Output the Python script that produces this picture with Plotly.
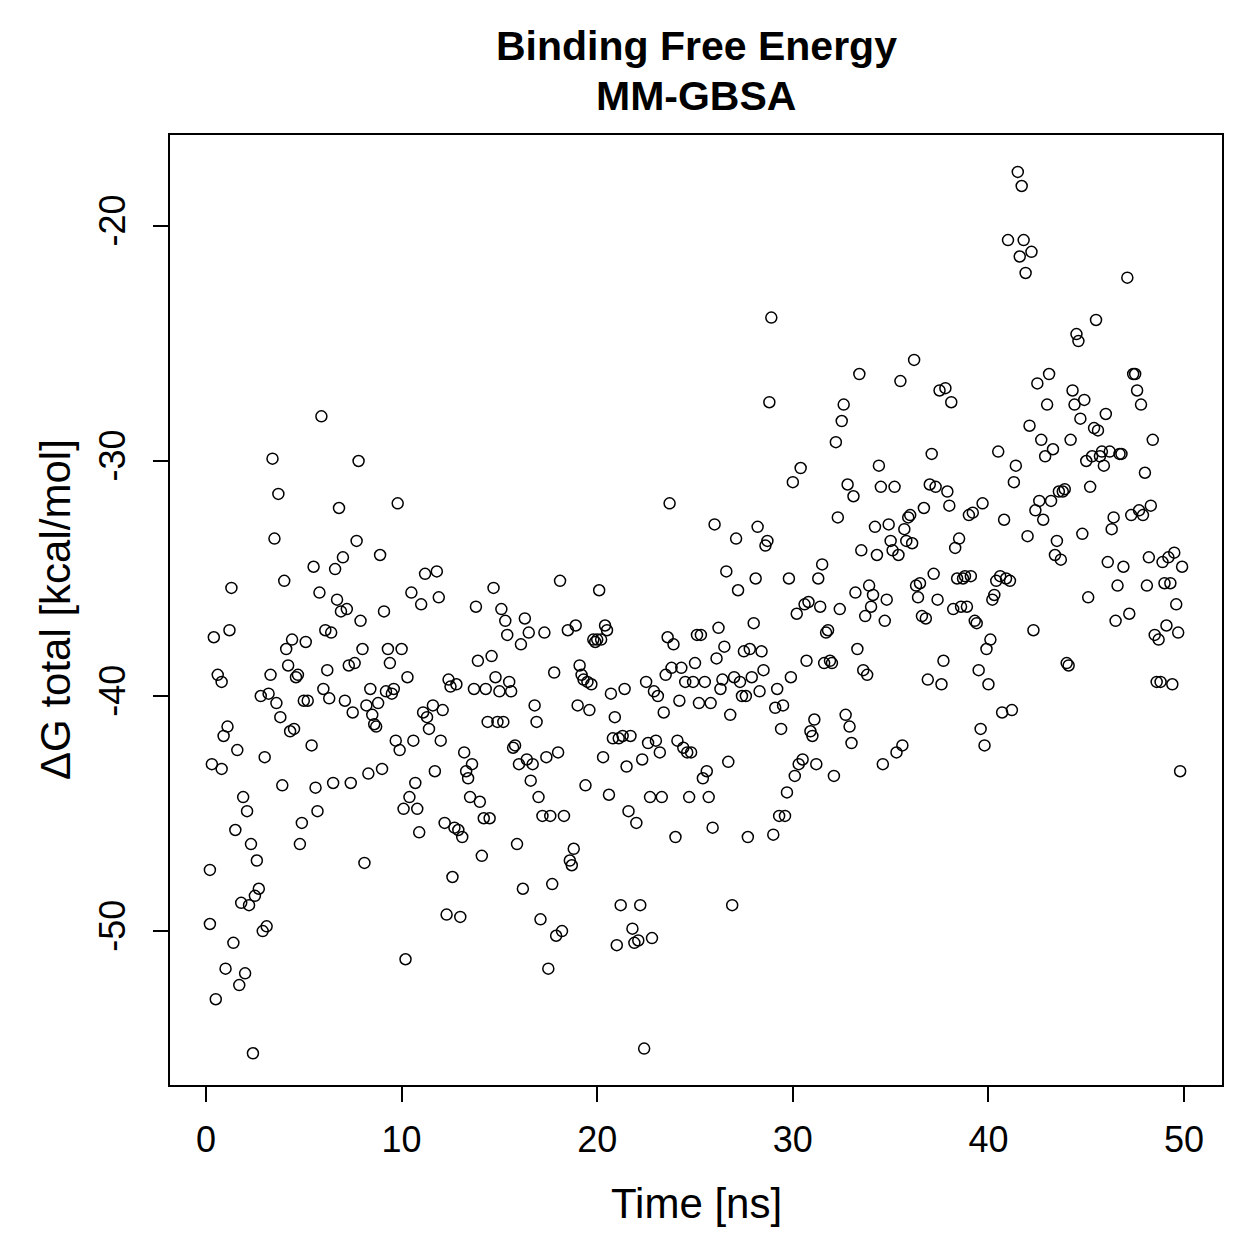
import plotly.graph_objects as go

title_lines = ["Binding Free Energy", "MM-GBSA"]
x_label = "Time [ns]"
y_label = "ΔG total [kcal/mol]"
x_ticks = [0, 10, 20, 30, 40, 50]
x_tick_text = ["0", "10", "20", "30", "40", "50"]
y_ticks = [-50, -40, -30, -20]
y_tick_text = ["-50", "-40", "-30", "-20"]

time_ns = [
    0.2, 0.2, 0.3, 0.4, 0.5, 0.6, 0.8, 0.8, 0.9, 1.0,
    1.1, 1.2, 1.3, 1.4, 1.5, 1.6, 1.7, 1.8, 1.9, 2.0,
    2.1, 2.2, 2.3, 2.4, 2.5, 2.6, 2.7, 2.8, 2.9, 3.0,
    3.1, 3.2, 3.3, 3.4, 3.5, 3.6, 3.7, 3.8, 3.9, 4.0,
    4.1, 4.2, 4.3, 4.4, 4.5, 4.6, 4.7, 4.8, 4.9, 5.0,
    5.1, 5.2, 5.4, 5.5, 5.6, 5.7, 5.8, 5.9, 6.0, 6.1,
    6.2, 6.3, 6.4, 6.5, 6.6, 6.7, 6.8, 6.9, 7.0, 7.1,
    7.2, 7.3, 7.4, 7.5, 7.6, 7.7, 7.8, 7.9, 8.0, 8.1,
    8.2, 8.3, 8.4, 8.5, 8.6, 8.7, 8.8, 8.9, 9.0, 9.1,
    9.2, 9.3, 9.4, 9.5, 9.6, 9.7, 9.8, 9.9, 10.0, 10.1,
    10.2, 10.3, 10.4, 10.5, 10.6, 10.7, 10.8, 10.9, 11.0, 11.1,
    11.2, 11.3, 11.4, 11.6, 11.7, 11.8, 11.9, 12.0, 12.1, 12.2,
    12.3, 12.4, 12.5, 12.6, 12.7, 12.8, 12.9, 13.0, 13.1, 13.2,
    13.3, 13.4, 13.5, 13.6, 13.7, 13.8, 13.9, 14.0, 14.1, 14.2,
    14.3, 14.4, 14.5, 14.6, 14.7, 14.8, 14.9, 15.0, 15.1, 15.2,
    15.3, 15.4, 15.5, 15.6, 15.7, 15.8, 15.9, 16.0, 16.1, 16.2,
    16.3, 16.4, 16.5, 16.6, 16.7, 16.8, 16.9, 17.0, 17.1, 17.2,
    17.3, 17.4, 17.5, 17.6, 17.7, 17.8, 17.9, 18.0, 18.1, 18.2,
    18.3, 18.5, 18.6, 18.7, 18.8, 18.9, 19.0, 19.1, 19.2, 19.3,
    19.4, 19.5, 19.6, 19.7, 19.8, 19.9, 20.0, 20.1, 20.2, 20.3,
    20.4, 20.5, 20.6, 20.7, 20.8, 20.9, 21.0, 21.1, 21.2, 21.3,
    21.4, 21.5, 21.6, 21.7, 21.8, 21.9, 22.0, 22.1, 22.2, 22.3,
    22.4, 22.5, 22.6, 22.7, 22.8, 22.9, 23.0, 23.1, 23.2, 23.3,
    23.4, 23.5, 23.6, 23.7, 23.8, 23.9, 24.0, 24.1, 24.2, 24.3,
    24.4, 24.5, 24.6, 24.7, 24.8, 24.9, 25.0, 25.1, 25.2, 25.3,
    25.4, 25.5, 25.6, 25.7, 25.8, 25.9, 26.0, 26.1, 26.2, 26.3,
    26.4, 26.5, 26.6, 26.7, 26.8, 26.9, 27.0, 27.1, 27.2, 27.3,
    27.4, 27.5, 27.6, 27.7, 27.8, 27.9, 28.0, 28.1, 28.2, 28.3,
    28.4, 28.5, 28.6, 28.7, 28.8, 28.9, 29.0, 29.1, 29.2, 29.3,
    29.4, 29.5, 29.6, 29.7, 29.8, 29.9, 30.0, 30.1, 30.2, 30.3,
    30.4, 30.5, 30.6, 30.7, 30.8, 30.9, 31.0, 31.1, 31.2, 31.3,
    31.4, 31.5, 31.6, 31.7, 31.8, 31.9, 32.0, 32.1, 32.2, 32.3,
    32.4, 32.5, 32.6, 32.7, 32.8, 32.9, 33.0, 33.1, 33.2, 33.3,
    33.4, 33.5, 33.6, 33.7, 33.8, 33.9, 34.0, 34.1, 34.2, 34.3,
    34.4, 34.5, 34.6, 34.7, 34.8, 34.9, 35.0, 35.1, 35.2, 35.3,
    35.4, 35.5, 35.6, 35.7, 35.8, 35.9, 36.0, 36.1, 36.2, 36.3,
    36.4, 36.5, 36.6, 36.7, 36.8, 36.9, 37.0, 37.1, 37.2, 37.3,
    37.4, 37.5, 37.6, 37.7, 37.8, 37.9, 38.0, 38.1, 38.2, 38.3,
    38.4, 38.5, 38.6, 38.7, 38.8, 38.9, 39.0, 39.1, 39.2, 39.3,
    39.4, 39.5, 39.6, 39.7, 39.8, 39.9, 40.0, 40.1, 40.2, 40.3,
    40.4, 40.5, 40.6, 40.7, 40.8, 40.9, 41.0, 41.1, 41.2, 41.3,
    41.4, 41.5, 41.6, 41.7, 41.8, 41.9, 42.0, 42.1, 42.2, 42.3,
    42.4, 42.5, 42.6, 42.7, 42.8, 42.9, 43.0, 43.1, 43.2, 43.3,
    43.4, 43.5, 43.6, 43.7, 43.8, 43.9, 44.0, 44.1, 44.2, 44.3,
    44.4, 44.5, 44.6, 44.7, 44.8, 44.9, 45.0, 45.1, 45.2, 45.3,
    45.4, 45.5, 45.6, 45.7, 45.8, 45.9, 46.0, 46.1, 46.2, 46.3,
    46.4, 46.5, 46.6, 46.7, 46.8, 46.9, 47.1, 47.2, 47.3, 47.4,
    47.5, 47.6, 47.7, 47.8, 47.9, 48.0, 48.1, 48.2, 48.3, 48.4,
    48.5, 48.6, 48.7, 48.8, 48.9, 49.0, 49.1, 49.2, 49.3, 49.4,
    49.5, 49.6, 49.7, 49.8, 49.9,
]

dg_total = [
    -49.7, -47.4, -42.9, -37.5, -52.9, -39.1, -43.1, -39.4, -41.7, -51.6,
    -41.3, -37.2, -35.4, -50.5, -45.7, -42.3, -52.3, -48.8, -44.3, -51.8,
    -44.9, -48.9, -46.3, -55.2, -48.5, -47.0, -48.2, -40.0, -50.0, -42.6,
    -49.8, -39.9, -39.1, -29.9, -33.3, -40.3, -31.4, -40.9, -43.8, -35.1,
    -38.0, -38.7, -41.5, -37.6, -41.4, -39.2, -39.1, -46.3, -45.4, -40.2,
    -37.7, -40.2, -42.1, -34.5, -43.9, -44.9, -35.6, -28.1, -39.7, -37.2,
    -38.9, -40.1, -37.3, -43.7, -34.6, -35.9, -32.0, -36.4, -34.1, -40.2,
    -36.3, -38.7, -43.7, -40.7, -38.6, -33.4, -30.0, -36.8, -38.0, -47.1,
    -40.4, -43.3, -39.7, -40.8, -41.2, -41.3, -40.3, -34.0, -43.1, -36.4,
    -39.8, -38.0, -38.6, -39.9, -39.7, -41.9, -31.8, -42.3, -38.0, -44.8,
    -51.2, -39.2, -44.3, -35.6, -41.9, -43.7, -44.8, -45.8, -36.1, -40.7,
    -34.8, -40.9, -41.4, -40.4, -43.2, -34.7, -35.8, -41.9, -40.6, -45.4,
    -49.3, -39.3, -39.6, -47.7, -45.6, -39.5, -45.7, -49.4, -46.0, -42.4,
    -43.2, -43.5, -44.3, -42.9, -39.7, -36.2, -38.5, -44.5, -46.8, -45.2,
    -39.7, -41.1, -45.2, -38.3, -35.4, -39.2, -41.1, -39.8, -36.3, -41.1,
    -36.8, -37.4, -39.4, -39.8, -42.2, -42.1, -46.3, -42.9, -37.8, -48.2,
    -36.7, -42.7, -37.3, -43.6, -42.9, -40.4, -41.1, -44.3, -49.5, -45.1,
    -37.3, -42.6, -51.6, -45.1, -48.0, -39.0, -50.2, -42.4, -35.1, -50.0,
    -45.1, -37.2, -47.0, -47.2, -46.5, -37.0, -40.4, -38.7, -39.1, -39.3,
    -43.8, -39.4, -40.6, -39.5, -37.6, -37.7, -37.6, -35.5, -37.6, -42.6,
    -37.0, -37.2, -44.2, -39.9, -41.8, -40.9, -50.6, -41.8, -48.9, -41.7,
    -39.7, -43.0, -44.9, -41.7, -49.9, -50.5, -45.4, -50.4, -48.9, -42.7,
    -55.0, -39.4, -42.0, -44.3, -50.3, -39.8, -41.9, -40.0, -42.4, -44.3,
    -40.7, -39.1, -37.5, -31.8, -38.8, -37.8, -46.0, -41.9, -40.2, -38.8,
    -42.2, -39.4, -42.4, -44.3, -42.4, -39.4, -38.6, -37.4, -40.3, -37.4,
    -43.5, -39.4, -43.2, -44.3, -40.3, -45.6, -32.7, -38.4, -37.1, -39.7,
    -39.3, -37.9, -34.7, -42.8, -40.8, -48.9, -39.2, -33.3, -35.5, -39.4,
    -40.0, -38.1, -40.0, -46.0, -38.0, -39.2, -36.9, -35.0, -32.8, -39.8,
    -38.1, -38.9, -33.6, -33.4, -27.5, -23.9, -45.9, -40.5, -39.7, -45.1,
    -41.4, -40.4, -45.1, -44.1, -35.0, -39.2, -30.9, -43.4, -36.5, -42.9,
    -30.3, -42.7, -36.1, -38.5, -36.0, -41.5, -41.7, -41.0, -42.9, -35.0,
    -36.2, -34.4, -38.6, -37.3, -37.2, -38.5, -38.6, -43.4, -29.2, -32.4,
    -36.3, -28.3, -27.6, -40.8, -31.0, -41.3, -42.0, -31.5, -35.6, -38.0,
    -26.3, -33.8, -38.9, -36.6, -39.1, -35.3, -36.2, -35.7, -32.8, -34.0,
    -30.2, -31.1, -42.9, -36.8, -35.9, -32.7, -33.4, -33.8, -31.1, -42.4,
    -34.0, -26.6, -42.1, -32.9, -33.4, -32.4, -32.3, -33.5, -25.7, -35.3,
    -35.8, -35.2, -36.6, -32.0, -36.7, -39.3, -31.0, -29.7, -34.8, -31.1,
    -35.9, -27.0, -39.5, -38.5, -26.9, -31.3, -31.9, -27.5, -36.3, -33.7,
    -35.0, -33.3, -36.2, -35.0, -34.9, -36.2, -32.3, -34.9, -32.2, -36.8,
    -36.9, -38.9, -41.4, -31.8, -42.1, -38.0, -39.5, -37.6, -35.9, -35.7,
    -35.1, -29.6, -34.9, -40.7, -32.5, -35.0, -20.6, -35.1, -40.6, -30.9,
    -30.2, -17.7, -21.3, -18.3, -20.6, -22.0, -33.2, -28.5, -21.1, -37.2,
    -32.1, -26.7, -31.7, -29.1, -32.5, -29.8, -27.6, -26.3, -31.7, -29.5,
    -34.0, -33.4, -31.3, -34.2, -31.3, -31.2, -38.6, -38.7, -29.1, -27.0,
    -27.6, -24.6, -24.9, -28.2, -33.1, -27.4, -30.0, -35.8, -31.1, -29.8,
    -28.6, -24.0, -28.7, -29.8, -29.6, -30.2, -28.0, -34.3, -29.6, -32.9,
    -32.4, -36.8, -35.3, -29.7, -29.7, -34.5, -22.2, -36.5, -32.3, -26.3,
    -26.3, -27.0, -32.1, -27.6, -32.3, -30.5, -35.3, -34.1, -31.9, -29.1,
    -37.4, -39.4, -37.6, -39.4, -34.3, -35.2, -37.0, -34.1, -35.2, -39.5,
    -33.9, -36.1, -37.3, -43.2, -34.5,
]

FONT = "Liberation Sans, Arial, Helvetica, sans-serif"
TICK_SIZE = 36
LABEL_SIZE = 42
TITLE_SIZE = 41

fig = go.Figure()
fig.add_trace(go.Scatter(
    x=time_ns, y=dg_total, mode="markers",
    marker=dict(symbol="circle-open", size=11, color="black",
                line=dict(width=1.5, color="black")),
    showlegend=False, hoverinfo="x+y",
))

axis_common = dict(
    showgrid=False, zeroline=False, showline=True, mirror=True,
    linecolor="black", linewidth=2, ticks="outside", ticklen=15,
    tickwidth=2, tickcolor="black",
    tickfont=dict(family=FONT, size=TICK_SIZE, color="black"),
)

# plot area: x 170..1222, y 135..1085 (pixels)
fig.update_layout(
    width=1259, height=1259,
    margin=dict(l=170, r=37, t=135, b=174),
    paper_bgcolor="white", plot_bgcolor="white",
    xaxis=dict(range=[-1.84, 51.94], tickvals=x_ticks, ticktext=x_tick_text,
               ticklabelstandoff=7, **axis_common),
    yaxis=dict(range=[-56.55, -16.13], tickvals=y_ticks, ticktext=y_tick_text,
               tickangle=-90, ticklabelstandoff=14, **axis_common),
    annotations=[
        dict(text="<b>" + title_lines[0] + "</b>", xref="paper", yref="paper",
             x=0.5, y=1 + (135 - 46) / 950, yanchor="middle",
             showarrow=False, font=dict(family=FONT, size=TITLE_SIZE, color="black")),
        dict(text="<b>" + title_lines[1] + "</b>", xref="paper", yref="paper",
             x=0.5, y=1 + (135 - 96) / 950, yanchor="middle",
             showarrow=False, font=dict(family=FONT, size=TITLE_SIZE, color="black")),
        dict(text=x_label, xref="paper", yref="paper", x=0.5,
             y=-(1203 - 1085) / 950, yanchor="middle",
             showarrow=False, font=dict(family=FONT, size=LABEL_SIZE, color="black")),
        dict(text=y_label, xref="paper", yref="paper", x=-(170 - 55) / 1052,
             y=0.5, xanchor="center", yanchor="middle", textangle=-90,
             showarrow=False, font=dict(family=FONT, size=LABEL_SIZE, color="black")),
    ],
)

fig.write_html("out.html")
